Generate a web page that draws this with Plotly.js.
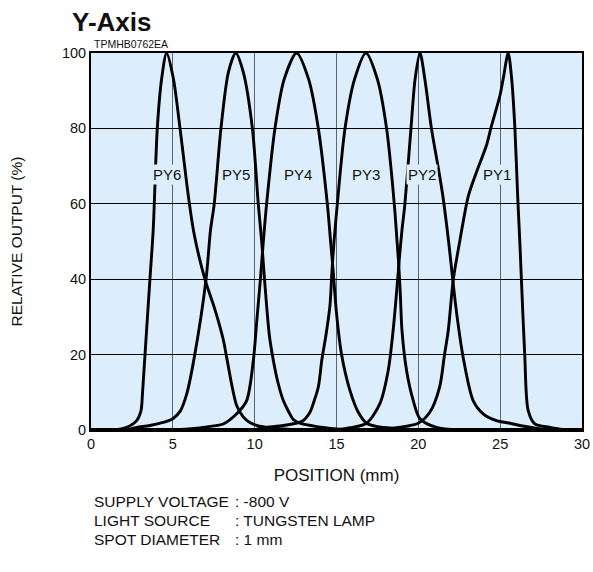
<!DOCTYPE html>
<html>
<head>
<meta charset="utf-8">
<script src="https://cdn.plot.ly/plotly-3.0.1.min.js"></script>
<style>
html,body{margin:0;padding:0;background:#fff;}
#chart{width:593px;height:572px;}
</style>
</head>
<body>
<div id="chart"></div>
<script>
// ---- data (position in mm, relative output in %) ----
const seriesNames = ["PY6", "PY5", "PY4", "PY3", "PY2", "PY1"];

const py6_x = [1.5, 2.18, 2.79, 3.05, 3.15, 3.3, 3.6, 3.8, 4.05, 4.32, 4.62, 5.03, 5.44, 5.95, 6.3, 6.96, 7.57, 8.08, 8.3, 8.6, 8.9, 9.3, 9.7, 10.3, 11.0, 12.0, 13.0];
const py6_y = [0, 0.7, 2.5, 5, 10, 20, 40, 53, 80, 93.3, 100, 93.3, 80, 62, 52, 40, 32, 24, 19, 12, 6.5, 3.5, 2, 1, 0.6, 0.2, 0];

const py5_x = [2.4, 2.8, 3.6, 4.4, 5.0, 5.45, 5.85, 6.3, 7.03, 7.3, 7.53, 7.94, 8.4, 8.84, 9.3, 9.86, 10.22, 10.43, 10.6, 10.9, 11.14, 11.4, 11.75, 12.0, 12.36, 12.77, 13.8, 15.0, 16.0];
const py5_y = [0.3, 0.7, 1.2, 2, 3, 5, 9.6, 19, 40, 53, 60, 80, 95, 100, 95, 80, 60, 50, 40, 25, 18.5, 13, 7.8, 5.5, 2.8, 1.8, 0.9, 0.3, 0];

const py4_x = [5.0, 6.5, 7.2, 8.08, 8.9, 9.51, 9.92, 10.15, 10.35, 10.53, 10.73, 11.24, 11.8, 12.56, 13.3, 13.89, 14.44, 14.64, 14.8, 15.0, 15.31, 15.82, 16.33, 16.84, 17.5, 18.67, 20.0];
const py4_y = [0, 0.5, 0.9, 1.6, 4.3, 7.8, 18.5, 30, 40, 50, 60, 80, 93, 100, 93, 80, 60, 50, 42, 31, 20, 10.5, 4.7, 1.8, 0.9, 0.4, 0];

const py3_x = [10.0, 10.5, 11.75, 12.9, 13.38, 13.58, 13.89, 14.1, 14.35, 14.6, 14.72, 14.85, 15.05, 15.52, 16.1, 16.8, 17.5, 18.06, 18.53, 18.7, 18.8, 18.9, 19.0, 19.28, 19.69, 20.1, 21.1, 22.5];
const py3_y = [0, 0.6, 1.2, 2.3, 4.7, 7, 11.4, 18.5, 25, 33, 42, 50, 60, 80, 93, 100, 93, 80, 60, 50, 44, 36, 26.4, 15.8, 7.8, 3, 0.7, 0];

const py2_x = [15.0, 15.82, 16.84, 17.65, 18.16, 18.45, 18.7, 18.85, 19.0, 19.18, 19.55, 19.8, 20.1, 20.4, 20.8, 21.2, 21.5, 21.85, 22.1, 22.34, 22.75, 23.35, 23.96, 24.78, 25.6, 26.2, 27.0, 28.0];
const py2_y = [0, 0.6, 1.8, 7, 15.8, 26, 38, 46, 53, 60, 80, 93, 100, 93, 80, 70, 62, 50, 40, 31, 19, 7.8, 4.3, 2.5, 1.8, 1.2, 0.6, 0];

const py1_x = [17.5, 18.67, 19.99, 20.7, 21.3, 21.6, 21.83, 22.13, 22.54, 23.05, 23.56, 24.17, 24.43, 24.99, 25.19, 25.49, 25.7, 25.9, 26.07, 26.2, 26.3, 26.5, 26.71, 27.12, 28.04, 29.0];
const py1_y = [0, 0.6, 1.8, 4.7, 11.4, 20, 26.4, 39.7, 50.3, 62, 68.5, 75.6, 80, 88.8, 93.3, 100, 93.3, 80, 62, 50, 39.7, 20, 5.2, 1.6, 0.7, 0];

const xData = [py6_x, py5_x, py4_x, py3_x, py2_x, py1_x];
const yData = [py6_y, py5_y, py4_y, py3_y, py2_y, py1_y];

// label anchor positions (data units)
const labelX = [4.67, 8.87, 12.63, 16.79, 20.25, 24.78];
const labelY = [67.8, 67.8, 67.8, 67.8, 67.8, 67.8];

const xTickVals = [0, 5, 10, 15, 20, 25, 30];
const yTickVals = [0, 20, 40, 60, 80, 100];

const noteLabels = ["SUPPLY VOLTAGE", "LIGHT SOURCE", "SPOT DIAMETER"];
const noteValues = [": -800 V", ": TUNGSTEN LAMP", ": 1 mm"];

// ---- layout helpers ----
const W = 593, H = 572;
const L = 91, R = 582, T = 53, B = 430;
const px2x = p => (p - L) / (R - L);
const px2y = p => (B - p) / (B - T);
const FONT = "Liberation Sans, Arial, Helvetica, sans-serif";
const BG = "#dceefc";

const traces = seriesNames.map((n, i) => ({
  type: "scatter",
  mode: "lines",
  name: n,
  x: xData[i],
  y: yData[i],
  line: {color: "#000", width: 2.9, shape: "spline", smoothing: 0.8},
  hoverinfo: "x+y+name"
}));

const annotations = [];
seriesNames.forEach((n, i) => {
  annotations.push({
    x: labelX[i], y: labelY[i], xref: "x", yref: "y",
    text: n, showarrow: false,
    font: {family: FONT, size: 15, color: "#111"},
    bgcolor: BG, borderpad: 1
  });
});
annotations.push({
  xref: "paper", yref: "paper", x: px2x(92), y: px2y(43.5),
  xanchor: "left", yanchor: "middle", text: "TPMHB0762EA", showarrow: false,
  font: {family: FONT, size: 10.5, color: "#111"}
});
const noteY = [501, 520, 539];
noteLabels.forEach((t, i) => {
  annotations.push({
    xref: "paper", yref: "paper", x: px2x(92), y: px2y(noteY[i]),
    xanchor: "left", yanchor: "middle", text: t, showarrow: false,
    font: {family: FONT, size: 15.5, color: "#111"}
  });
  annotations.push({
    xref: "paper", yref: "paper", x: px2x(233), y: px2y(noteY[i]),
    xanchor: "left", yanchor: "middle", text: noteValues[i], showarrow: false,
    font: {family: FONT, size: 15.5, color: "#111"}
  });
});

const layout = {
  width: W, height: H,
  margin: {l: L, r: W - R, t: T, b: H - B, pad: 0},
  paper_bgcolor: "#fff",
  plot_bgcolor: BG,
  showlegend: false,
  font: {family: FONT, color: "#111"},
  title: {
    text: "<b>Y-Axis</b>",
    font: {family: FONT, size: 26, color: "#111"},
    xref: "container", yref: "container",
    x: 72 / W, xanchor: "left",
    y: 1 - 22 / H, yanchor: "middle"
  },
  xaxis: {
    range: [0, 30],
    tickvals: xTickVals,
    ticks: "", showline: true, mirror: true, linecolor: "#000", linewidth: 2,
    showgrid: true, gridcolor: "#5c6670", gridwidth: 1.2,
    zeroline: false,
    tickfont: {family: FONT, size: 14.5, color: "#111"},
    title: {text: "POSITION (mm)", font: {family: FONT, size: 17, color: "#111"}, standoff: 18}
  },
  yaxis: {
    range: [0, 100],
    tickvals: yTickVals,
    ticks: "", showline: true, mirror: true, linecolor: "#000", linewidth: 2,
    showgrid: true, gridcolor: "#000", gridwidth: 1,
    zeroline: false,
    tickfont: {family: FONT, size: 14.5, color: "#111"},
    title: {text: "RELATIVE OUTPUT (%)", font: {family: FONT, size: 15.5, color: "#111"}, standoff: 35}
  },
  shapes: [{
    type: "line", xref: "paper", yref: "paper", x0: 0, x1: 1, y0: 0, y1: 0,
    line: {color: "#000", width: 4}
  }],
  annotations: annotations
};

Plotly.newPlot("chart", traces, layout, {displayModeBar: false, staticPlot: true});
</script>
</body>
</html>
